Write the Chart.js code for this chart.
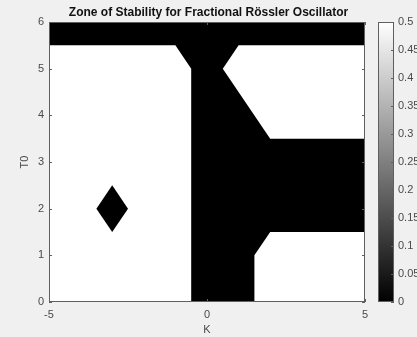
<!DOCTYPE html>
<html>
<head>
<meta charset="utf-8">
<script src="https://cdn.jsdelivr.net/npm/chart.js@4.4.0/dist/chart.umd.min.js"></script>
<style>
  html, body { margin: 0; padding: 0; background: #f0f0f0; }
</style>
</head>
<body>
<canvas id="zone" width="417" height="337"></canvas>
<script>
// Unstable zone outline (value 0, black)
const zoneK = [-5, 5, 5, 1, 0.5, 2, 5, 5, 2, 1.5, 1.5, -0.5, -0.5, -1, -5, -5];
const zoneT0 = [6, 6, 5.5, 5.5, 5, 3.5, 3.5, 1.5, 1.5, 1, 0, 0, 5, 5.5, 5.5, 6];
// Diamond island (value 0, black)
const diamondK = [-3.5, -3, -2.5, -3, -3.5];
const diamondT0 = [2, 2.5, 2, 1.5, 2];
const zoneValue = 0;
const backgroundValue = 0.5;

const kTicks = [-5, 0, 5];
const t0Ticks = [0, 1, 2, 3, 4, 5, 6];
const cbTicks = [0, 0.05, 0.1, 0.15, 0.2, 0.25, 0.3, 0.35, 0.4, 0.45, 0.5];
const cbMin = 0;
const cbMax = 0.5;

// gray colormap
function grayColor(v) {
    const g = Math.round(255 * (v - cbMin) / (cbMax - cbMin));
    return `rgb(${g},${g},${g})`;
}

function toPoints(xs, ys) {
    return xs.map((x, i) => ({ x: x, y: ys[i] }));
}

function fixedTicks(values) {
    return scale => { scale.ticks = values.map(v => ({ value: v })); };
}

const axisColor = '#5f5f5f';

// plot background, box, inward ticks and colorbar
const matlabLook = {
    id: 'matlabLook',
    beforeDraw(chart) {
        const { ctx, chartArea: a } = chart;
        ctx.save();
        ctx.fillStyle = grayColor(backgroundValue);
        ctx.fillRect(a.left, a.top, a.right - a.left, a.bottom - a.top);
        ctx.restore();
    },
    afterDraw(chart) {
        const { ctx, chartArea: a, scales } = chart;
        ctx.save();
        ctx.strokeStyle = axisColor;
        ctx.lineWidth = 1;
        ctx.strokeRect(a.left + 0.5, a.top + 0.5, a.right - a.left - 1, a.bottom - a.top - 1);

        ctx.beginPath();
        kTicks.forEach(v => {
            const px = Math.round(scales.x.getPixelForValue(v)) + 0.5;
            ctx.moveTo(px, a.bottom); ctx.lineTo(px, a.bottom - 3);
            ctx.moveTo(px, a.top); ctx.lineTo(px, a.top + 3);
        });
        t0Ticks.forEach(v => {
            const py = Math.round(scales.y.getPixelForValue(v)) + 0.5;
            ctx.moveTo(a.left, py); ctx.lineTo(a.left + 3, py);
            ctx.moveTo(a.right, py); ctx.lineTo(a.right - 3, py);
        });
        ctx.stroke();

        // colorbar
        const cb = scales.cb;
        const left = a.right + 13;
        const width = 16;
        const grad = ctx.createLinearGradient(0, cb.top, 0, cb.bottom);
        grad.addColorStop(0, grayColor(cbMax));
        grad.addColorStop(1, grayColor(cbMin));
        ctx.fillStyle = grad;
        ctx.fillRect(left, cb.top, width, cb.bottom - cb.top);
        ctx.strokeRect(left + 0.5, cb.top + 0.5, width - 1, cb.bottom - cb.top - 1);
        ctx.beginPath();
        cbTicks.forEach(v => {
            const py = Math.round(cb.getPixelForValue(v)) + 0.5;
            ctx.moveTo(left + width, py); ctx.lineTo(left + width - 3, py);
        });
        ctx.stroke();
        ctx.restore();
    }
};

Chart.defaults.font.family = "'Liberation Sans', Arial, sans-serif";
Chart.defaults.color = '#4a4a4a';

new Chart(document.getElementById('zone').getContext('2d'), {
    type: 'scatter',
    data: {
        datasets: [
            {
                data: toPoints(zoneK, zoneT0),
                showLine: true,
                fill: 'shape',
                backgroundColor: grayColor(zoneValue),
                borderWidth: 0,
                pointRadius: 0,
                tension: 0
            },
            {
                data: toPoints(diamondK, diamondT0),
                showLine: true,
                fill: 'shape',
                backgroundColor: grayColor(zoneValue),
                borderWidth: 0,
                pointRadius: 0,
                tension: 0
            }
        ]
    },
    options: {
        responsive: false,
        animation: false,
        layout: { padding: 0 },
        plugins: {
            legend: { display: false },
            tooltip: { enabled: false },
            title: {
                display: true,
                text: 'Zone of Stability for Fractional Rössler Oscillator',
                color: '#111',
                font: { size: 12, weight: 'bold' },
                padding: { top: 5, bottom: 2.6 }
            }
        },
        scales: {
            x: {
                type: 'linear',
                min: -5, max: 5,
                afterBuildTicks: fixedTicks(kTicks),
                afterFit: s => { s.height = 35; },
                grid: { display: false, drawTicks: false },
                border: { display: false },
                ticks: { font: { size: 11 }, padding: 6, maxRotation: 0 },
                title: { display: true, text: 'K', font: { size: 11 }, padding: { top: 0, bottom: 0 } }
            },
            y: {
                type: 'linear',
                min: 0, max: 6,
                afterBuildTicks: fixedTicks(t0Ticks),
                afterFit: s => { s.width = 49; s.paddingTop = 0; s.paddingBottom = 0; },
                grid: { display: false, drawTicks: false },
                border: { display: false },
                ticks: { font: { size: 11 }, padding: 5 },
                title: { display: true, text: 'T0', font: { size: 11 }, padding: { top: 18, bottom: 0 } }
            },
            cb: {
                type: 'linear',
                position: 'right',
                min: cbMin, max: cbMax,
                afterBuildTicks: fixedTicks(cbTicks),
                // keep the wide label padding from pushing the plot area in
                afterFit: s => { s.width = 52; s.paddingTop = 0; s.paddingBottom = 0; },
                grid: { display: false, drawTicks: false },
                border: { display: false },
                ticks: {
                    font: { size: 11 },
                    padding: 33,
                    callback: v => String(Math.round(v * 100) / 100)
                }
            }
        }
    },
    plugins: [matlabLook]
});
</script>
</body>
</html>
